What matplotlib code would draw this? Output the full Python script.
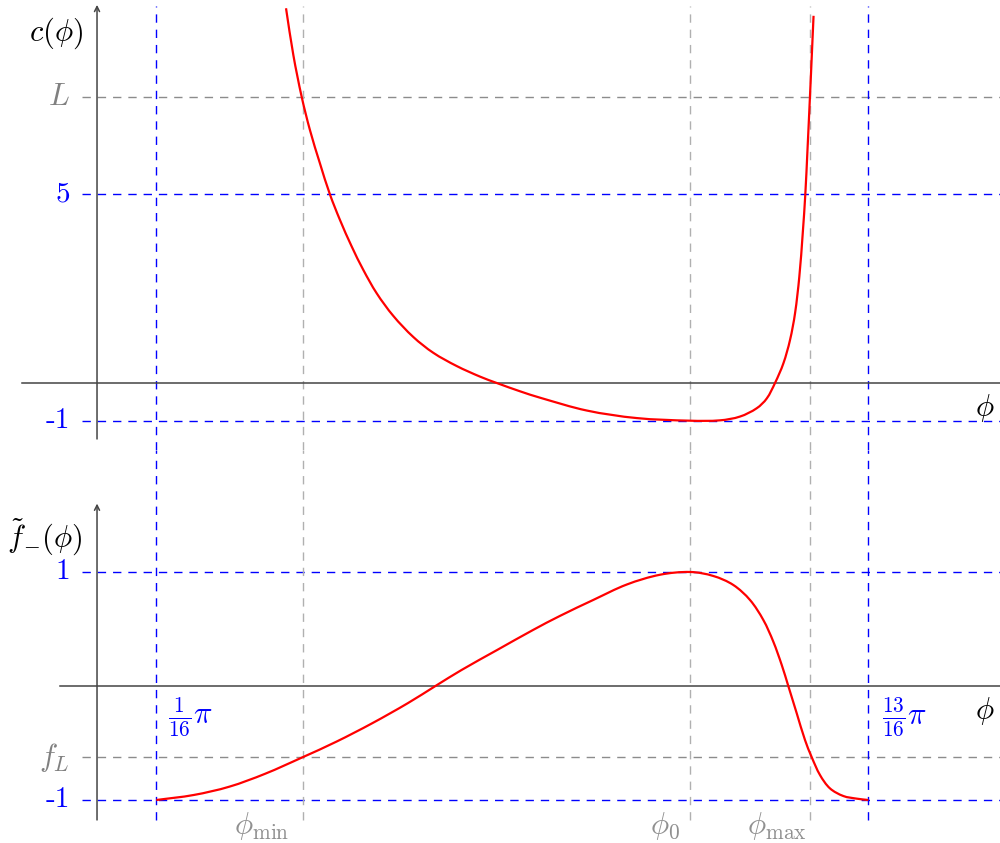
import numpy as np
import matplotlib.pyplot as plt
from matplotlib.path import Path
from matplotlib.patches import PathPatch

plt.rcParams['mathtext.fontset'] = 'cm'

# phi values are in units of pi
phi_min = 0.2165
phi_0 = 0.625
phi_max = 0.7511
phi_blue = [1/16, 13/16]
blue_labels = [r'$\frac{1}{16}\pi$', r'$\frac{13}{16}\pi$']

L_val = 7.59
f_L = -0.625

# c(phi)
c_phi = [0.1991, 0.2068, 0.2156, 0.2244, 0.2349, 0.2454, 0.2560, 0.2683, 0.2805,
         0.2946, 0.3121, 0.3332, 0.3543, 0.3789, 0.4034, 0.4211, 0.4456, 0.4667,
         0.5159, 0.5685, 0.625, 0.6563, 0.6773, 0.6949, 0.7055, 0.7142, 0.7230,
         0.7300, 0.7353, 0.7398, 0.7434, 0.7461, 0.7484, 0.7510, 0.7532, 0.7548]
c_val = [9.94, 8.70, 7.59, 6.70, 5.82, 5.0, 4.32, 3.62, 3.0,
         2.38, 1.78, 1.22, 0.80, 0.45, 0.17, 0.0, -0.22, -0.39,
         -0.73, -0.93, -1.0, -0.99, -0.89, -0.67, -0.41, 0.0, 0.52,
         1.14, 1.85, 2.82, 3.97, 5.0, 6.18, 7.59, 8.83, 9.74]

# f~_-(phi)
f_phi = [0.0625, 0.1018, 0.1394, 0.1770, 0.2165, 0.2522, 0.2898, 0.3275, 0.3565,
         0.3839, 0.4215, 0.4592, 0.4877, 0.5228, 0.5580, 0.5931, 0.625, 0.6492,
         0.6703, 0.6879, 0.7019, 0.7124, 0.7213, 0.7282, 0.7371, 0.7458, 0.7529,
         0.7616, 0.7721, 0.7862, 0.8003, 0.8125]
f_val = [-1.0, -0.956, -0.883, -0.770, -0.625, -0.488, -0.327, -0.150, 0.0,
         0.140, 0.316, 0.491, 0.615, 0.755, 0.890, 0.976, 1.0, 0.965,
         0.886, 0.754, 0.579, 0.389, 0.184, 0.0, -0.240, -0.474, -0.625,
         -0.781, -0.898, -0.965, -0.988, -1.0]

blue = '#0000ff'
gray_h = '#8c8c8c'
gray_v = '#b0b0b0'
axcol = '#444444'
dash = (0, (6, 5))
fs = 22
fs_num = 21


def smooth_curve(ax, xs, ys, **kw):
    # spline through the read points, tangents from chord lengths in pixels
    tr = ax.transData
    p = tr.transform(np.column_stack([xs, ys]))
    d = np.hypot(*np.diff(p, axis=0).T)
    n = len(p)
    tan = np.zeros_like(p)
    tan[0] = (p[1] - p[0]) / d[0]
    tan[-1] = (p[-1] - p[-2]) / d[-1]
    for i in range(1, n - 1):
        tan[i] = (p[i + 1] - p[i - 1]) / (d[i - 1] + d[i])
    verts = [p[0]]
    codes = [Path.MOVETO]
    for i in range(n - 1):
        verts += [p[i] + tan[i] * d[i] / 3, p[i + 1] - tan[i + 1] * d[i] / 3, p[i + 1]]
        codes += [Path.CURVE4] * 3
    verts = tr.inverted().transform(np.array(verts))
    ax.add_patch(PathPatch(Path(verts, codes), fill=False, **kw))


fig = plt.figure(figsize=(10, 8.43), dpi=100)
ax1 = fig.add_axes([0, 393/843, 1, 450/843])
ax2 = fig.add_axes([0, 0, 1, 393/843])
xlim = (-0.1022, 0.9512)
ax1.set_xlim(xlim)
ax1.set_ylim(-1.777, 10.159)
ax2.set_xlim(xlim)
ax2.set_ylim(-1.377, 2.070)
for ax in (ax1, ax2):
    ax.axis('off')

h_start = -0.0158
lab_x = -0.0284

# ---- top panel ----
ax1.plot([h_start, xlim[1]], [L_val, L_val], color=gray_h, lw=1, ls=dash)
ax1.plot([h_start, xlim[1]], [5, 5], color=blue, lw=1, ls=dash)
ax1.plot([h_start, xlim[1]], [-1, -1], color=blue, lw=1, ls=dash)
for p in phi_blue:
    ax1.plot([p, p], [-1.777, 10.0], color=blue, lw=1, ls=dash)
for p in [phi_min, phi_0, phi_max]:
    ax1.plot([p, p], [-1.777, 10.0], color=gray_v, lw=1, ls=dash)

ax1.plot([-0.079, xlim[1]], [0, 0], color=axcol, lw=1.1)
ax1.annotate('', xy=(0, 10.03), xytext=(0, -1.485),
             arrowprops=dict(arrowstyle='->', lw=1.1, color=axcol,
                             shrinkA=0, shrinkB=0, mutation_scale=9))
smooth_curve(ax1, c_phi, c_val, edgecolor='red', lw=1.6, zorder=5)

ax1.text(-0.0147, 9.28, r'$c(\phi)$', fontsize=fs, ha='right', va='center')
ax1.text(lab_x, L_val, r'$L$', fontsize=fs, ha='right', va='center', color='#808080')
ax1.text(lab_x, 5, '5', fontsize=fs_num, ha='right', va='center', color=blue, family='cmr10')
ax1.text(lab_x, -1, '-1', fontsize=fs_num, ha='right', va='center', color=blue, family='cmr10')
ax1.text(0.9354, -0.66, r'$\phi$', fontsize=fs, ha='center', va='center')

# ---- bottom panel ----
ax2.plot([h_start, xlim[1]], [1, 1], color=blue, lw=1, ls=dash)
ax2.plot([h_start, xlim[1]], [f_L, f_L], color=gray_h, lw=1, ls=dash)
ax2.plot([h_start, xlim[1]], [-1, -1], color=blue, lw=1, ls=dash)
for p in phi_blue:
    ax2.plot([p, p], [-1.175, 2.070], color=blue, lw=1, ls=dash)
for p in [phi_min, phi_0, phi_max]:
    ax2.plot([p, p], [-1.175, 2.070], color=gray_v, lw=1, ls=dash)

ax2.plot([-0.039, xlim[1]], [0, 0], color=axcol, lw=1.1)
ax2.annotate('', xy=(0, 1.60), xytext=(0, -1.175),
             arrowprops=dict(arrowstyle='->', lw=1.1, color=axcol,
                             shrinkA=0, shrinkB=0, mutation_scale=9))
smooth_curve(ax2, f_phi, f_val, edgecolor='red', lw=1.6, zorder=5)

ax2.text(-0.0147, 1.307, r'$\tilde{f}_{-}(\phi)$', fontsize=fs, ha='right', va='center')
ax2.text(lab_x, 1, '1', fontsize=fs_num, ha='right', va='center', color=blue, family='cmr10')
ax2.text(lab_x, f_L, r'$f_L$', fontsize=fs, ha='right', va='center', color='#808080')
ax2.text(lab_x, -1, '-1', fontsize=fs_num, ha='right', va='center', color=blue, family='cmr10')
ax2.text(0.9354, -0.219, r'$\phi$', fontsize=fs, ha='center', va='center')
for p, lab, x in zip(phi_blue, blue_labels, [0.0748, 0.8269]):
    ax2.text(x, -0.272, lab, fontsize=fs, ha='left', va='center', color=blue)
for x, lab in zip([0.1738, 0.598, 0.716], [r'$\phi_{\min}$', r'$\phi_0$', r'$\phi_{\max}$']):
    ax2.text(x, -1.228, lab, fontsize=fs, ha='center', va='center', color='#909090')

plt.savefig('out.png', dpi=100)
